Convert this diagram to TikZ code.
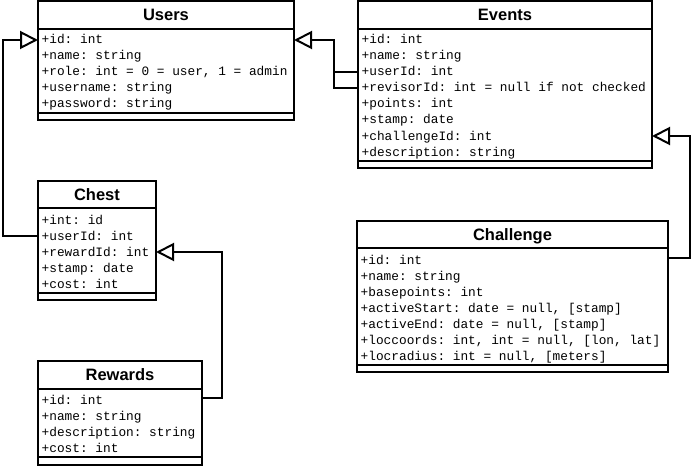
\documentclass[tikz,border=0pt]{standalone}
\usepackage{fontspec}
\setmainfont{Liberation Sans}
\setmonofont{Liberation Mono}
\usetikzlibrary{arrows.meta}
\tikzset{
  cls/.style={draw, line width=2pt, inner sep=0pt, outer sep=0pt, fill=white},
  ttl/.style={font=\bfseries\fontsize{16.5}{16.5}\selectfont, inner sep=0pt, text height=12pt, text depth=0.4pt},
  attr/.style={font=\ttfamily\fontsize{12.8}{12.8}\selectfont, inner sep=0pt, anchor=west, text height=9pt, text depth=1pt},
  sepline/.style={line width=2pt},
  conn/.style={line width=2pt, -{Triangle[open, length=18pt, width=18pt]}},
  plainconn/.style={line width=2pt},
}
\begin{document}
\begin{tikzpicture}[x=1pt, y=-1pt]
\useasboundingbox (0,0) rectangle (693,468);

% ---------- Users ----------
\node[cls, minimum width=256pt, minimum height=119pt] (users) at (166,60.5) {};
\draw[sepline] (38,29) -- (294,29);
\draw[sepline] (38,113) -- (294,113);
\node[ttl] (usersT) at (166,15) {Users};
\node[attr] (u1) at (41.5,40) {+id: int};
\node[attr] (u2) at (41.5,56) {+name: string};
\node[attr] (u3) at (41.5,72) {+role: int = 0 = user, 1 = admin};
\node[attr] (u4) at (41.5,88) {+username: string};
\node[attr] (u5) at (41.5,104) {+password: string};

% ---------- Events ----------
\node[cls, minimum width=294pt, minimum height=167pt] (events) at (505,84.5) {};
\draw[sepline] (358,29) -- (652,29);
\draw[sepline] (358,161) -- (652,161);
\node[ttl] (eventsT) at (505,15) {Events};
\node[attr] (e1) at (361.5,40) {+id: int};
\node[attr] (e2) at (361.5,56) {+name: string};
\node[attr] (e3) at (361.5,72) {+userId: int};
\node[attr] (e4) at (361.5,88) {+revisorId: int = null if not checked};
\node[attr] (e5) at (361.5,104) {+points: int};
\node[attr] (e6) at (361.5,120) {+stamp: date};
\node[attr] (e7) at (361.5,136) {+challengeId: int};
\node[attr] (e8) at (361.5,152) {+description: string};

% ---------- Chest ----------
\node[cls, minimum width=118pt, minimum height=119pt] (chest) at (97,240.5) {};
\draw[sepline] (38,208) -- (156,208);
\draw[sepline] (38,293) -- (156,293);
\node[ttl] (chestT) at (97,194.5) {Chest};
\node[attr] (c1) at (41.5,220) {+int: id};
\node[attr] (c2) at (41.5,236) {+userId: int};
\node[attr] (c3) at (41.5,252) {+rewardId: int};
\node[attr] (c4) at (41.5,268) {+stamp: date};
\node[attr] (c5) at (41.5,284) {+cost: int};

% ---------- Rewards ----------
\node[cls, minimum width=164pt, minimum height=104pt] (rewards) at (120,413) {};
\draw[sepline] (38,389) -- (202,389);
\draw[sepline] (38,457) -- (202,457);
\node[ttl] (rewardsT) at (120,375) {Rewards};
\node[attr] (r1) at (41.5,400) {+id: int};
\node[attr] (r2) at (41.5,416) {+name: string};
\node[attr] (r3) at (41.5,432) {+description: string};
\node[attr] (r4) at (41.5,448) {+cost: int};

% ---------- Challenge ----------
\node[cls, minimum width=311pt, minimum height=151pt] (challenge) at (512.5,296.5) {};
\draw[sepline] (357,248) -- (668,248);
\draw[sepline] (357,365) -- (668,365);
\node[ttl] (challengeT) at (512.5,234.5) {Challenge};
\node[attr] (h1) at (360.5,260) {+id: int};
\node[attr] (h2) at (360.5,276) {+name: string};
\node[attr] (h3) at (360.5,292) {+basepoints: int};
\node[attr] (h4) at (360.5,308) {+activeStart: date = null, [stamp]};
\node[attr] (h5) at (360.5,324) {+activeEnd: date = null, [stamp]};
\node[attr] (h6) at (360.5,340) {+loccoords: int, int = null, [lon, lat]};
\node[attr] (h7) at (360.5,356) {+locradius: int = null, [meters]};

% ---------- connectors ----------
\coordinate (jEv) at (334,0);
\coordinate (jCh) at (2.5,0);
\coordinate (jRw) at (222,0);
\coordinate (jCl) at (689.5,0);

\draw[conn] (e4 -| events.west) -- (e4 -| jEv) -- (u1 -| jEv) -- (u1 -| users.east);
\draw[plainconn] (e3 -| events.west) -- (e3 -| jEv);

\draw[conn] (c2 -| chest.west) -- (c2 -| jCh) -- (u1 -| jCh) -- (u1 -| users.west);

\draw[conn] ([yshift=2pt]r1.west -| rewards.east) -- ([yshift=2pt]r1.west -| jRw) -- (c3 -| jRw) -- (c3 -| chest.east);

\draw[conn] ([yshift=2pt]h1.west -| challenge.east) -- ([yshift=2pt]h1.west -| jCl) -- (e7 -| jCl) -- (e7 -| events.east);
\end{tikzpicture}
\end{document}
